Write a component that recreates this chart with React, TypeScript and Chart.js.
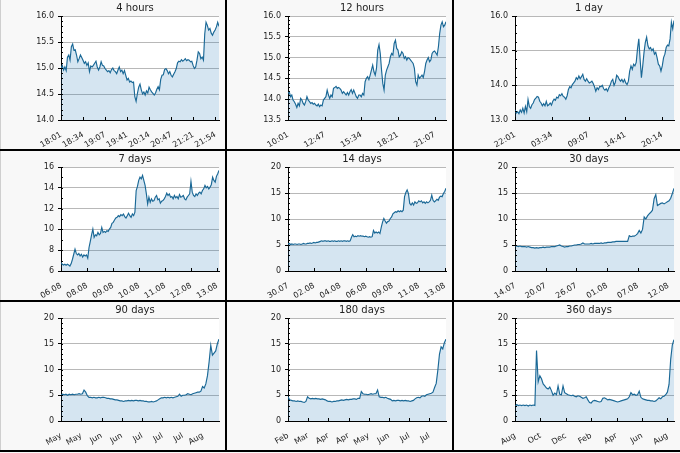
import React, { useEffect, useRef } from "react";
import { Chart, registerables } from "chart.js";

Chart.register(...registerables);
Chart.defaults.font.family = "'DejaVu Sans', sans-serif";
Chart.defaults.color = "#222";

const titles = ["4 hours", "12 hours", "1 day", "7 days", "14 days", "30 days", "90 days", "180 days", "360 days"];

const labels4h = ["18:01", "18:34", "19:07", "19:41", "20:14", "20:47", "21:21", "21:54"];
const labels12h = ["10:01", "12:47", "15:34", "18:21", "21:07"];
const labels1d = ["22:01", "03:34", "09:07", "14:41", "20:14"];
const labels7d = ["06.08", "08.08", "09.08", "10.08", "11.08", "12.08", "13.08"];
const labels14d = ["30.07", "02.08", "04.08", "06.08", "09.08", "11.08", "13.08"];
const labels30d = ["14.07", "20.07", "26.07", "01.08", "07.08", "12.08"];
const labels90d = ["May", "May", "Jun", "Jun", "Jul", "Jul", "Jul", "Aug"];
const labels180d = ["Feb", "Mar", "Apr", "Apr", "May", "Jun", "Jul", "Jul"];
const labels360d = ["Aug", "Oct", "Dec", "Feb", "Apr", "Jun", "Aug"];

// length of each series, counted in x tick intervals
const spans = [7.16, 4.31, 4.32, 6.07, 6.04, 5.18, 7.8, 7.83, 6.26];

const yMins = [14, 13.5, 13, 6, 0, 0, 0, 0, 0];
const yMaxs = [16, 16, 16, 16, 20, 20, 20, 20, 20];
const yMajorSteps = [0.5, 0.5, 1, 2, 5, 5, 5, 5, 5];
const yMinorSteps = [0.1, 0.1, 0.25, 1, 1, 1, 1, 1, 1];
const yDecimals = [1, 1, 1, 0, 0, 0, 0, 0, 0];

const values4h = [
  14.99, 15.05, 14.96, 15.02, 14.95, 15.21, 15.25, 15.15, 15.41, 15.46, 15.34, 15.35, 15.25, 15.12, 15.18, 15.25,
  15.2, 15.15, 15.09, 15.12, 15.05, 15.1, 14.93, 15.04, 15.02, 15.05, 15.09, 15.13, 15.02, 14.96, 15.02, 15.12,
  15.05, 15.04, 14.99, 14.96, 14.93, 14.95, 14.91, 14.97, 15.0, 14.95, 14.93, 14.89, 14.96, 15.02, 14.93, 14.96,
  14.89, 14.95, 14.86, 14.77, 14.8, 14.73, 14.75, 14.72, 14.73, 14.45, 14.36, 14.51, 14.63, 14.69, 14.58, 14.5,
  14.54, 14.48, 14.56, 14.52, 14.63, 14.58, 14.54, 14.51, 14.48, 14.52, 14.59, 14.64, 14.58, 14.78, 14.86, 14.87,
  14.97, 14.99, 14.95, 14.89, 14.93, 14.86, 14.83, 14.88, 14.93, 14.99, 15.1, 15.13, 15.12, 15.16, 15.13, 15.15,
  15.18, 15.14, 15.16, 15.15, 15.12, 15.13, 15.05, 14.99, 15.02, 15.15, 15.31, 15.28, 15.18, 15.21, 15.15, 15.66,
  15.88, 15.82, 15.73, 15.76, 15.67, 15.63, 15.69, 15.73, 15.79, 15.88, 15.8,
];

const values12h = [
  14.14, 14.18, 14.06, 14.1, 13.98, 13.94, 13.88, 13.8, 13.9, 13.84, 14.02, 13.98, 13.9, 13.86, 13.94, 14.06,
  13.98, 13.94, 13.9, 13.92, 13.88, 13.9, 13.86, 13.84, 13.88, 13.82, 13.86, 13.84, 13.98, 14.02, 14.06, 14.22,
  14.1, 14.02, 14.1, 14.06, 14.26, 14.28, 14.31, 14.26, 14.28, 14.26, 14.22, 14.14, 14.18, 14.14, 14.1, 14.16,
  14.1, 14.18, 14.23, 14.14, 14.22, 14.14, 14.06, 14.02, 14.1, 14.1, 14.06, 14.14, 14.1, 14.42, 14.5, 14.54,
  14.47, 14.58, 14.7, 14.82, 14.66, 14.58, 14.74, 15.18, 15.31, 15.1, 14.7, 14.38, 14.22, 14.58, 14.7, 14.78,
  14.86, 15.02, 15.1, 15.06, 15.34, 15.42, 15.22, 15.18, 15.02, 15.06, 15.14, 15.1, 14.98, 15.02, 14.94, 15.0,
  14.98, 14.94, 14.9, 14.86, 14.74, 14.42, 14.34, 14.58, 14.5, 14.54, 14.58, 14.52, 14.66, 14.86, 14.94, 15.0,
  14.9, 14.94, 15.1, 15.14, 15.16, 15.11, 15.06, 15.26, 15.58, 15.78, 15.86, 15.74, 15.78, 15.86,
];

const values1d = [
  13.29, 13.2, 13.24, 13.18, 13.29, 13.22, 13.34, 13.2, 13.39, 13.24, 13.59, 13.39, 13.34, 13.44, 13.49, 13.59,
  13.63, 13.68, 13.66, 13.54, 13.49, 13.41, 13.47, 13.41, 13.54, 13.41, 13.44, 13.49, 13.43, 13.54, 13.6, 13.57,
  13.66, 13.63, 13.73, 13.7, 13.76, 13.68, 13.66, 13.6, 13.7, 13.88, 13.96, 13.93, 14.02, 14.07, 14.12, 14.22,
  14.17, 14.27, 14.19, 14.25, 14.32, 14.17, 14.12, 14.19, 14.12, 14.07, 14.09, 14.12, 14.05, 13.96, 13.83, 13.93,
  13.88, 13.97, 13.96, 14.0, 13.9, 13.86, 13.9, 13.83, 13.93, 14.0, 14.12, 14.17, 14.0, 14.09, 14.29, 14.25,
  14.17, 14.12, 14.17, 14.09, 14.17, 14.07, 14.02, 14.12, 14.41, 14.56, 14.46, 14.61, 14.56, 14.66, 15.05, 15.34,
  14.75, 14.22, 14.56, 14.95, 15.24, 15.39, 15.14, 15.05, 15.09, 15.0, 15.05, 14.9, 14.95, 14.8, 14.61, 14.56,
  14.41, 14.56, 14.8, 14.9, 15.09, 15.16, 15.14, 15.34, 15.82, 15.63, 15.87,
];

const values7d = [
  6.81, 6.65, 6.58, 6.65, 6.55, 6.65, 6.58, 6.48, 6.71, 7.13, 7.61, 8.1, 7.68, 7.55, 7.68, 7.45,
  7.61, 7.35, 7.55, 7.45, 7.55, 7.23, 8.26, 8.84, 9.48, 10.03, 9.23, 9.48, 9.39, 9.71, 9.48, 9.61,
  10.19, 9.71, 9.81, 9.71, 9.87, 9.81, 10.03, 10.19, 10.58, 10.68, 10.9, 11.1, 11.16, 11.32, 11.23, 11.42,
  11.32, 11.48, 11.23, 11.1, 11.32, 11.55, 11.32, 11.16, 11.48, 11.32, 11.65, 13.74, 14.13, 14.71, 15.03, 14.87,
  15.19, 14.71, 14.23, 13.42, 12.45, 13.1, 12.61, 12.94, 12.71, 12.77, 13.1, 13.26, 12.84, 12.94, 12.52, 12.71,
  12.77, 12.94, 13.16, 13.48, 13.26, 13.42, 13.1, 13.16, 12.94, 13.26, 13.03, 13.16, 12.94, 13.35, 13.1, 13.16,
  13.26, 12.94, 12.84, 13.1, 13.26, 13.42, 14.61, 13.58, 13.26, 13.16, 13.42, 13.26, 13.48, 13.58, 13.42, 13.74,
  13.9, 14.23, 14.0, 14.13, 13.9, 14.06, 14.32, 15.03, 14.71, 14.55, 15.1, 15.35, 15.68,
];

const values14d = [
  5.2, 5.3, 5.1, 5.2, 5.1, 5.2, 5.2, 5.1, 5.2, 5.2, 5.1, 5.2, 5.3, 5.2, 5.2, 5.3, 5.3, 5.4, 5.3, 5.4, 5.5, 5.4, 5.5,
  5.5, 5.6, 5.7, 5.8, 5.7, 5.8, 5.8, 5.7, 5.8, 5.7, 5.7, 5.8, 5.7, 5.8, 5.7, 5.7, 5.8, 5.7, 5.8, 5.7, 5.8, 5.8, 5.7, 5.8, 5.7,
  5.8, 6.5, 7.0, 6.6, 6.7, 6.6, 6.8, 6.7, 6.8, 6.7, 6.7, 6.6, 6.7, 6.6, 6.5, 6.6, 6.5, 6.6,
  7.8, 7.3, 7.5, 7.3, 7.5, 7.2, 8.4, 9.4, 10.1, 9.6, 9.2, 9.5, 9.6, 10.1, 10.4, 11.0, 11.2, 11.4, 11.3, 11.6, 11.4, 11.6,
  11.4, 11.7, 14.3, 15.1, 15.6, 14.9, 13.0, 12.7, 13.1, 12.7, 13.3, 13.0, 13.1, 13.5, 13.3, 13.5, 13.1, 13.3, 13.0, 13.3,
  13.1, 13.3, 13.6, 14.6, 13.6, 13.3, 13.5, 13.8, 13.6, 14.2, 14.4, 14.3, 14.9, 15.3, 15.9,
];

const values30d = [
  4.8, 4.8, 4.7, 4.8, 4.7, 4.7, 4.7, 4.6, 4.7, 4.6, 4.5, 4.5, 4.4, 4.5, 4.4, 4.5, 4.5, 4.6, 4.5, 4.6, 4.6, 4.6,
  4.7, 4.7, 4.7, 4.8, 4.9, 5.0, 4.8, 4.7, 4.6, 4.7, 4.7, 4.8, 4.8, 4.9, 5.0, 5.0, 5.1, 5.1, 5.2, 5.4,
  5.2, 5.2, 5.2, 5.2, 5.3, 5.2, 5.3, 5.3, 5.3, 5.3, 5.4, 5.3, 5.4, 5.4, 5.5, 5.5, 5.5, 5.6, 5.6, 5.7, 5.7, 5.7,
  5.7, 5.7, 5.7, 5.7, 5.7, 6.8, 6.6, 6.7, 6.7, 6.9, 7.2, 7.8, 7.3, 8.0, 10.4, 10.0, 10.6, 11.0, 11.3, 11.7,
  13.9, 14.7, 12.6, 12.8, 13.0, 13.1, 12.9, 13.1, 13.3, 13.5, 14.0, 14.9, 15.9,
];

const values90d = [
  5.0, 5.2, 5.1, 5.2, 5.0, 5.2, 5.1, 5.2, 5.1, 5.2, 5.2, 5.3, 5.2, 5.3, 6.0, 5.6, 4.9, 4.6,
  4.6, 4.5, 4.6, 4.5, 4.5, 4.6, 4.5, 4.6, 4.6, 4.5, 4.4, 4.4, 4.3, 4.3, 4.2,
  4.1, 4.1, 4.0, 3.9, 3.9, 3.8, 3.9, 3.9, 4.0, 3.9, 4.0, 3.9, 4.0, 4.0, 3.9, 4.0, 3.9, 3.9, 3.8, 3.8, 3.7, 3.7, 3.8, 3.7,
  3.8, 3.9, 4.1, 4.3, 4.5, 4.5, 4.6, 4.5, 4.6, 4.5, 4.6, 4.5, 4.6, 4.7, 4.8,
  5.2, 4.8, 5.0, 5.0, 5.1, 5.3, 5.2, 5.1, 5.3, 5.4, 5.5, 5.6, 5.6, 5.8, 6.7, 6.4, 7.2, 8.8, 11.5, 14.7, 12.8, 13.2,
  13.6, 15.0, 15.9,
];

const values180d = [
  4.7, 4.1, 4.0, 3.9, 3.9, 3.8, 3.9, 3.8, 3.8, 3.7, 3.6, 3.8, 4.7, 4.4, 4.3, 4.4, 4.3, 4.4, 4.3, 4.3, 4.2, 4.3, 4.2, 4.1, 3.9,
  3.8, 3.8, 3.7, 3.8, 3.8, 3.9, 3.9, 4.0, 4.1, 4.0, 4.1, 4.2, 4.1, 4.2, 4.2, 4.3, 4.3, 4.2, 4.4, 4.4,
  5.7, 5.3, 5.2, 5.2, 5.1, 5.2, 5.3, 5.2, 5.3, 5.3, 6.0, 4.7, 4.6, 4.6, 4.5, 4.6, 4.4, 4.3, 4.2,
  3.9, 4.0, 3.9, 4.0, 4.0, 3.9, 4.0, 3.9, 4.0, 3.9, 3.9, 3.8, 3.9, 4.0,
  4.3, 4.5, 4.6, 4.5, 4.8, 4.9, 4.8, 5.1, 5.2, 5.3, 5.4, 5.6, 6.5, 7.3, 9.9, 13.0, 14.4, 14.0, 15.2, 15.9,
];

const values360d = [
  2.8, 3.2, 3.0, 3.1, 3.0, 3.1, 3.0, 3.1, 2.9, 3.1, 3.0, 3.1, 3.0, 13.7, 7.6, 8.8, 8.2, 7.2, 6.8, 6.4, 6.2, 6.6,
  5.9, 5.0, 5.4, 5.1, 6.8, 5.2, 5.1, 6.8, 5.5, 5.3, 5.1, 5.0, 4.9, 5.0, 4.8, 4.7, 4.9, 4.8, 4.6, 4.4, 4.5, 4.7,
  4.1, 3.6, 3.5, 3.9, 4.0, 3.9, 3.8, 3.7, 3.8, 4.4, 4.5, 4.3, 4.1, 4.2, 4.1, 4.0, 3.9, 3.8, 3.7, 3.8, 3.9, 4.0,
  4.1, 4.2, 4.3, 4.7, 5.5, 5.1, 5.2, 5.0, 5.1, 5.8, 4.6, 4.3, 4.2, 4.1, 4.0, 4.0, 3.9, 3.9, 3.8, 3.9, 4.2, 4.5,
  4.3, 4.7, 4.8, 5.1, 5.6, 7.1, 12.0, 14.8, 15.8,
];

const tickLabels = [labels4h, labels12h, labels1d, labels7d, labels14d, labels30d, labels90d, labels180d, labels360d];
const seriesValues = [values4h, values12h, values1d, values7d, values14d, values30d, values90d, values180d, values360d];

const LINE = "#1a6896";
const FILL = "rgba(31, 119, 180, 0.19)";

// white plot background, inward minor y ticks and inward x ticks
const axisMarks = {
  id: "axisMarks",
  beforeDraw(chart: any) {
    const { ctx, chartArea } = chart;
    ctx.save();
    ctx.fillStyle = "#fff";
    ctx.fillRect(chartArea.left, chartArea.top, chartArea.right - chartArea.left, chartArea.bottom - chartArea.top);
    ctx.restore();
  },
  afterDraw(chart: any, _args: any, opts: any) {
    const { ctx, chartArea, scales } = chart;
    const x = scales.x;
    const y = scales.y;
    ctx.save();
    ctx.strokeStyle = "#000";
    ctx.lineWidth = 1;
    ctx.beginPath();
    const n = Math.round((y.max - y.min) / opts.minor);
    for (let k = 0; k <= n; k++) {
      const py = Math.round(y.getPixelForValue(y.min + k * opts.minor)) + 0.5;
      ctx.moveTo(chartArea.left, py);
      ctx.lineTo(chartArea.left + 2, py);
    }
    x.ticks.forEach((t: any) => {
      const px = Math.round(x.getPixelForValue(t.value)) + 0.5;
      ctx.moveTo(px, chartArea.bottom);
      ctx.lineTo(px, chartArea.bottom - 3);
    });
    ctx.stroke();
    ctx.restore();
  },
};

const Panel: React.FC<{ idx: number }> = ({ idx }) => {
  const chartRef = useRef<HTMLCanvasElement | null>(null);

  useEffect(() => {
    if (!chartRef.current) return;
    const ctx = chartRef.current.getContext("2d");
    if (!ctx) return;

    const labels = tickLabels[idx];
    const vals = seriesValues[idx];
    const span = spans[idx];
    const points = vals.map((v, i) => ({ x: (i * span) / (vals.length - 1), y: v }));

    const chart = new Chart(ctx, {
      type: "line",
      data: {
        datasets: [
          {
            data: points,
            borderColor: LINE,
            backgroundColor: FILL,
            borderWidth: 1.15,
            pointRadius: 0,
            fill: "start",
            tension: 0,
          },
        ],
      },
      options: {
        animation: false,
        responsive: true,
        maintainAspectRatio: false,
        layout: { padding: { top: 16, right: 6, left: 0, bottom: 0 } },
        plugins: {
          legend: { display: false },
          tooltip: { enabled: false },
          axisMarks: { minor: yMinorSteps[idx] },
        } as any,
        scales: {
          x: {
            type: "linear",
            min: 0,
            max: span,
            afterBuildTicks: (s: any) => {
              s.ticks = labels.map((_, i) => ({ value: i }));
            },
            afterFit: (s: any) => {
              s.height = 29;
            },
            ticks: {
              autoSkip: false,
              minRotation: 30,
              maxRotation: 30,
              padding: 2,
              font: { size: 8 },
              callback: (_v: any, i: number) => labels[i],
            },
            grid: { display: false },
            border: { color: "#000" },
          },
          y: {
            min: yMins[idx],
            max: yMaxs[idx],
            afterFit: (s: any) => {
              s.width = 61;
            },
            ticks: {
              stepSize: yMajorSteps[idx],
              padding: 4,
              font: { size: 8 },
              callback: (v: any) => Number(v).toFixed(yDecimals[idx]),
            },
            grid: { color: "#b8b8b8", tickColor: "#000", tickLength: 3 },
            border: { color: "#000" },
          },
        },
      },
      plugins: [axisMarks],
    });

    return () => {
      chart.destroy();
    };
  }, [idx]);

  return <canvas ref={chartRef} />;
};

const colX = [0, 227, 454];
const colW = [225, 225, 226];
const rowY = [0, 151, 302];
const rowH = [149, 149, 148];

export default function App() {
  return (
    <div style={{ position: "absolute", left: 0, top: 0, width: 680, height: 453, background: "#f8f8f8", overflow: "hidden" }}>
      {titles.map((t, i) => {
        const c = i % 3;
        const r = Math.floor(i / 3);
        return (
          <div key={t} style={{ position: "absolute", left: colX[c], top: rowY[r], width: colW[c], height: rowH[r] }}>
            <div style={{ position: "relative", width: "100%", height: "100%" }}>
              <Panel idx={i} />
            </div>
            <div
              style={{
                position: "absolute",
                left: 55,
                top: 1,
                width: 160,
                textAlign: "center",
                font: "10px 'DejaVu Sans', sans-serif",
                lineHeight: "13px",
                color: "#222",
              }}
            >
              {t}
            </div>
          </div>
        );
      })}
      <div style={{ position: "absolute", left: 0, top: 0, width: 1, height: 451, background: "#cfcfcf" }} />
      <div style={{ position: "absolute", left: 225, top: 0, width: 2, height: 451, background: "#000" }} />
      <div style={{ position: "absolute", left: 452, top: 0, width: 2, height: 451, background: "#000" }} />
      <div style={{ position: "absolute", left: 0, top: 149, width: 680, height: 2, background: "#000" }} />
      <div style={{ position: "absolute", left: 0, top: 300, width: 680, height: 2, background: "#000" }} />
      <div style={{ position: "absolute", left: 0, top: 450, width: 680, height: 2, background: "#000" }} />
    </div>
  );
}
